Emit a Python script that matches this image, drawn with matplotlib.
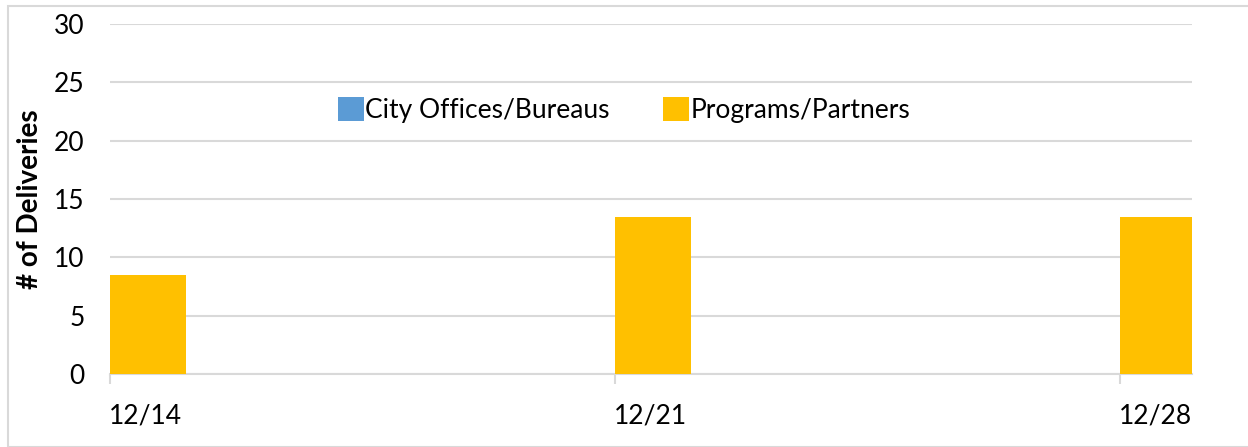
import matplotlib
matplotlib.use("Agg")
import matplotlib.pyplot as plt
from matplotlib.patches import Rectangle

# data (days offset from 12/14)
week_labels = ["12/14", "12/21", "12/28"]
week_days = [0, 7, 14]
city_offices = [0, 0, 0]
programs = [8.5, 13.5, 13.5]

plt.rcParams['font.family'] = ['Lato', 'DejaVu Sans']

fig = plt.figure(figsize=(12.48, 4.47), dpi=100)
ax = fig.add_axes([0.088, 0.163, 0.867, 0.783])

# outer border of the chart area
fig.patches.append(Rectangle((8 / 1248, 0), 1.0, 1 - 6 / 447, transform=fig.transFigure,
                             fill=False, edgecolor="#d9d9d9", linewidth=1.5))

ax.bar(week_days, city_offices, width=0.0, align="edge", color="#5B9BD5",
       label="City Offices/Bureaus")
ax.bar(week_days, programs, width=1.05, align="edge", color="#FFC000",
       label="Programs/Partners", zorder=3)

ax.set_xlim(0, 15)
ax.set_ylim(0, 30)
ax.set_yticks(range(0, 31, 5))
ax.grid(axis="y", color="#d9d9d9", linewidth=1.5, zorder=0)
ax.set_axisbelow(True)

for s in ["top", "right", "left"]:
    ax.spines[s].set_visible(False)
ax.spines["bottom"].set_color("#d9d9d9")
ax.spines["bottom"].set_linewidth(1.5)

# tick marks at the dates, labels centred under the bars
ax.set_xticks(week_days)
ax.set_xticklabels([])
ax.tick_params(axis="x", which="major", length=7, color="#d9d9d9", width=1.5)
ax.set_xticks([d + 0.5 for d in week_days], minor=True)
ax.set_xticklabels(week_labels, minor=True)
ax.tick_params(axis="x", which="minor", length=0, labelsize=19, pad=21)
ax.tick_params(axis="y", length=0, labelsize=19, pad=18)

ax.set_ylabel("# of Deliveries", fontsize=20, fontweight="bold", labelpad=8)

ax.legend(loc="center", bbox_to_anchor=(0.475, 0.755), ncol=2, frameon=False,
          fontsize=19, handlelength=1.0, handleheight=1.0, handletextpad=0.05,
          columnspacing=2.0)

fig.savefig("out.png", dpi=100)
